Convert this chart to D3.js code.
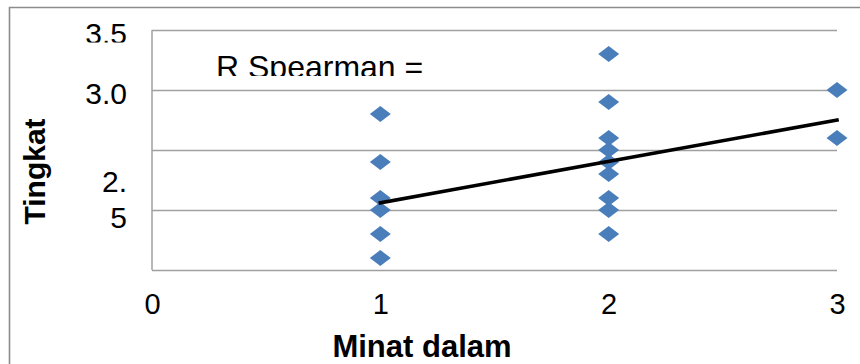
<!DOCTYPE html>
<html><head><meta charset="utf-8">
<script src="https://cdn.jsdelivr.net/npm/d3@7"></script>
<style>html,body{margin:0;padding:0;background:#fff;overflow:hidden}svg{display:block}text{font-family:"Liberation Sans",Arial,sans-serif}</style>
</head><body>
<script>
// Data
const minatX = [1,1,1,1,1,1, 2,2,2,2,2,2,2,2,2, 3,3];
const tingkatY = [2.8,2.4,2.1,2.0,1.8,1.6, 3.3,2.9,2.6,2.5,2.4,2.3,2.1,2.0,1.8, 3.0,2.6];
const trendX = [1, 3];
const trendY = [2.06, 2.75];
const xTicks = [0,1,2,3];
const xTickLabels = ["0","1","2","3"];
const gridValues = [3.5,3.0,2.5,2.0,1.5];
const yTickValues = [3.5,3.0,2.5];
const yTickLines = [["3.5"],["3.0"],["2.","5"]];
const xTitle = "Minat dalam";
const yTitle = "Tingkat";
const noteText = "R Spearman =";

const W = 860, H = 364;
const svg = d3.select("body").append("svg").attr("width", W).attr("height", H);
const defs = svg.append("defs");

const x = d3.scaleLinear().domain([0,3]).range([152,837]);
const y = d3.scaleLinear().domain([1.5,3.5]).range([270,30]);

// outer chart border (top and left only visible)
svg.append("path").attr("d", `M9.5,${H} L9.5,7.5 L${W},7.5`)
  .attr("fill","none").attr("stroke","#8c8c8c").attr("stroke-width",1.6);

// gridlines
const grid = svg.append("g").attr("transform", `translate(${x(0)},0)`)
  .call(d3.axisLeft(y).tickValues(gridValues).tickSize(-(x(3)-x(0))).tickFormat(""));
grid.select(".domain").remove();
grid.selectAll(".tick line").attr("stroke","#a0a0a0").attr("stroke-width",1.5);

// left axis line
svg.append("line").attr("x1",x(0)).attr("x2",x(0)).attr("y1",y(3.5)).attr("y2",y(1.5))
  .attr("stroke","#a0a0a0").attr("stroke-width",1.5);

// y tick labels
defs.append("clipPath").attr("id","clipTop").append("rect")
  .attr("x",0).attr("y",23).attr("width",200).attr("height",19.5);
const yl = svg.append("g");
yTickValues.forEach((v,i) => {
  const lines = yTickLines[i];
  const base = lines.length === 1 ? y(v) + 14 : y(v) + 42;
  const t = yl.append("text").attr("text-anchor","end").attr("font-size",30).attr("fill","#000");
  if (i === 0) t.attr("clip-path","url(#clipTop)");
  lines.forEach((s,j) => {
    t.append("tspan").attr("x",127).attr("y", base + j*36).text(s);
  });
});

// x axis labels
const xa = svg.append("g").attr("transform",`translate(0,${y(1.5)})`)
  .call(d3.axisBottom(x).tickValues(xTicks).tickSize(0).tickPadding(23).tickFormat((d,i)=>xTickLabels[i]));
xa.select(".domain").remove();
xa.selectAll("text").attr("font-size",29).attr("fill","#000").attr("font-family",'"Liberation Sans",Arial,sans-serif');

// R Spearman note (clipped)
defs.append("clipPath").attr("id","clipNote").append("rect")
  .attr("x",150).attr("y",40).attr("width",400).attr("height",36);
svg.append("text").attr("x",216).attr("y",78).attr("font-size",32).attr("fill","#000")
  .attr("clip-path","url(#clipNote)").text(noteText);

// points (diamonds)
const pts = minatX.map((d,i)=>({x:d, y:tingkatY[i]}));
svg.append("g").selectAll("path").data(pts).join("path")
  .attr("transform", d=>`translate(${x(d.x)},${y(d.y)})`)
  .attr("d","M0,-8 L10.5,0 L0,8 L-10.5,0 Z")
  .attr("fill","#4a7ebb");

// trend line
svg.append("path").datum(trendX.map((d,i)=>[d,trendY[i]]))
  .attr("d", d3.line().x(d=>x(d[0])).y(d=>y(d[1])))
  .attr("fill","none").attr("stroke","#000").attr("stroke-width",3.6).attr("stroke-linecap","square");

// axis titles
svg.append("text").attr("x",422).attr("y",357).attr("text-anchor","middle")
  .attr("font-size",31).attr("font-weight","bold").attr("fill","#000").text(xTitle);
svg.append("text").attr("transform","translate(45,171.5) rotate(-90)").attr("text-anchor","middle")
  .attr("font-size",30).attr("font-weight","bold").attr("fill","#000").text(yTitle);
</script>
</body></html>
